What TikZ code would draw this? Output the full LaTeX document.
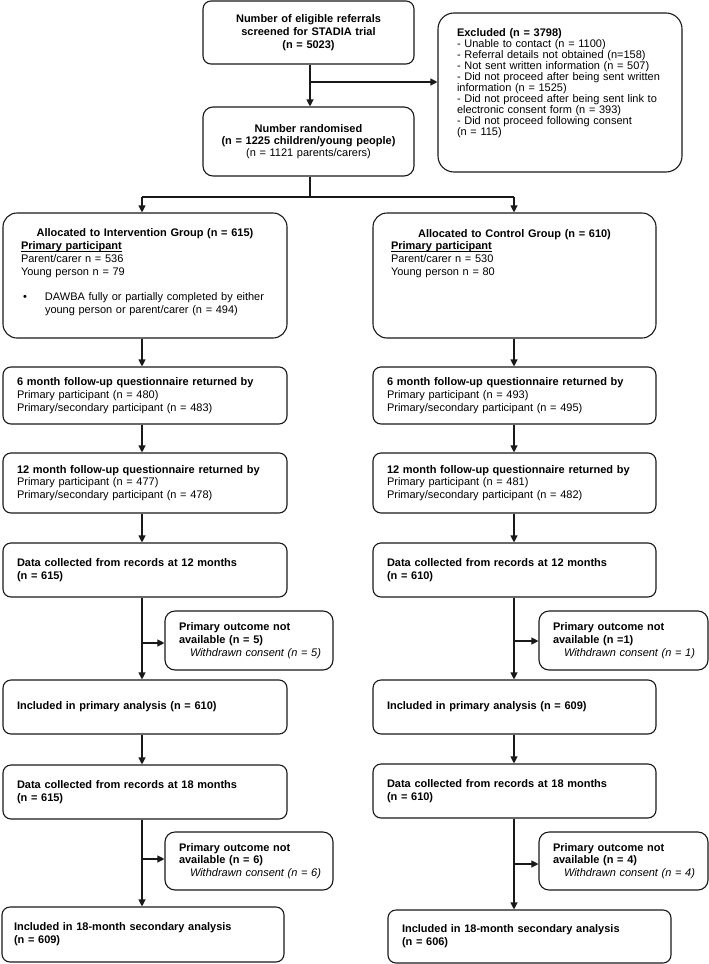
\documentclass[tikz,border=0pt]{standalone}
\usepackage{fontspec}
\setmainfont{Liberation Sans}
\usetikzlibrary{arrows.meta}
\newcommand{\fs}{\fontsize{11}{12.8}\selectfont}
\newcommand{\botpad}[1]{\par\vspace{#1}\hrule height 0pt depth 0pt width 0pt}
\newcommand{\ulbf}[1]{\underline{\smash{\textbf{#1}}}}
\newcommand{\wdr}[1]{\mbox{\hspace*{11pt}\textit{Withdrawn consent (n = #1)}}}
\tikzset{
  box/.style={draw=black!90, line width=1.1pt, rounded corners=8pt, align=left, inner ysep=1pt, font=\fs},
  cbox/.style={box, align=center},
  conn/.style={draw=black!90, line width=1.1pt},
  arr/.style={conn, -{Triangle[length=7pt,width=7pt]}},
}
\begin{document}
\begin{tikzpicture}[x=1pt,y=-1pt]
\useasboundingbox (0,0) rectangle (709,964);
% top section
\node[cbox, minimum width=211, minimum height=63, text width=191, inner xsep=10pt] (top) at (308.5,32.5)
  {\textbf{Number of eligible referrals}\\\textbf{screened for STADIA trial}\\\textbf{(n = 5023)}};
\node[box, rounded corners=16pt, minimum width=244, minimum height=159, text width=206, inner xsep=19pt, font=\fontsize{11}{11}\selectfont] (excl) at (560,92.5)
  {\textbf{Excluded (n = 3798)}\\- Unable to contact (n = 1100)\\- Referral details not obtained (n=158)\\- Not sent written information (n = 507)\\\mbox{- Did not proceed after being sent written}\\information (n = 1525)\\\mbox{- Did not proceed after being sent link to}\\electronic consent form (n = 393)\\- Did not proceed following consent\\(n = 115)\botpad{19pt}};
\node[cbox, rounded corners=10pt, minimum width=211, minimum height=69, text width=195, inner xsep=8pt, font=\fontsize{11}{12}\selectfont] (rand) at (308.5,141.5)
  {\textbf{Number randomised}\\\textbf{(n = 1225 children/young people)}\\(n = 1121 parents/carers)};
% allocation
\node[box, rounded corners=14pt, minimum width=284, minimum height=125, text width=248, inner xsep=18pt] (allocL) at (145,275.5)
  {\makebox[\linewidth][c]{\textbf{Allocated to Intervention Group (n = 615)}}\\\ulbf{Primary participant}\\Parent/carer n = 536\\Young person n = 79\\[12.8pt]\hspace*{2pt}\makebox[22pt][l]{\textbullet}\parbox[t]{222pt}{\fs DAWBA fully or partially completed by either\\young person or parent/carer (n = 494)}\botpad{6pt}};
\node[box, rounded corners=14pt, minimum width=283, minimum height=125, text width=247, inner xsep=18pt] (allocR) at (514.5,275.5)
  {\makebox[\linewidth][c]{\textbf{Allocated to Control Group (n = 610)}}\\\ulbf{Primary participant}\\Parent/carer n = 530\\Young person n = 80\botpad{44pt}};
% left column
\node[box, minimum width=284, minimum height=57, text width=256, inner xsep=14pt] (m6L) at (145,395.5)
  {\textbf{6 month follow-up questionnaire returned by}\\Primary participant (n = 480)\\Primary/secondary participant (n = 483)};
\node[box, minimum width=284, minimum height=60, text width=256, inner xsep=14pt] (m12L) at (145,483)
  {\textbf{12 month follow-up questionnaire returned by}\\Primary participant (n = 477)\\Primary/secondary participant (n = 478)};
\node[box, minimum width=284, minimum height=54, text width=256, inner xsep=14pt] (d12L) at (145,570)
  {\textbf{Data collected from records at 12 months}\\\textbf{(n = 615)}};
\node[box, rounded corners=10pt, minimum width=168, minimum height=59, text width=140, inner xsep=14pt] (po1L) at (249,640.5)
  {\textbf{Primary outcome not}\\\textbf{available (n = 5)}\\\wdr{5}};
\node[box, minimum width=284, minimum height=54, text width=256, inner xsep=14pt] (incL) at (145,707)
  {\textbf{Included in primary analysis (n = 610)}};
\node[box, minimum width=284, minimum height=54, text width=256, inner xsep=14pt] (d18L) at (145,792)
  {\textbf{Data collected from records at 18 months}\\\textbf{(n = 615)}};
\node[box, rounded corners=10pt, minimum width=168, minimum height=58, text width=140, inner xsep=14pt] (po2L) at (249,861)
  {\textbf{Primary outcome not}\\\textbf{available (n = 6)}\\\wdr{6}};
\node[box, minimum width=282, minimum height=55, text width=258, inner xsep=12pt] (inc18L) at (143,934.5)
  {\textbf{Included in 18-month secondary analysis}\\\textbf{(n = 609)}};
% right column
\node[box, minimum width=283, minimum height=57, text width=255, inner xsep=14pt] (m6R) at (514.5,395.5)
  {\textbf{6 month follow-up questionnaire returned by}\\Primary participant (n = 493)\\Primary/secondary participant (n = 495)};
\node[box, minimum width=283, minimum height=60, text width=255, inner xsep=14pt] (m12R) at (514.5,483)
  {\textbf{12 month follow-up questionnaire returned by}\\Primary participant (n = 481)\\Primary/secondary participant (n = 482)};
\node[box, minimum width=283, minimum height=54, text width=255, inner xsep=14pt] (d12R) at (514.5,570)
  {\textbf{Data collected from records at 12 months}\\\textbf{(n = 610)}};
\node[box, rounded corners=10pt, minimum width=169, minimum height=59, text width=141, inner xsep=14pt] (po1R) at (623.5,640.5)
  {\textbf{Primary outcome not}\\\textbf{available (n =1)}\\\wdr{1}};
\node[box, minimum width=283, minimum height=54, text width=255, inner xsep=14pt] (incR) at (514.5,707)
  {\textbf{Included in primary analysis (n = 609)}};
\node[box, minimum width=283, minimum height=54, text width=255, inner xsep=14pt] (d18R) at (514.5,791)
  {\textbf{Data collected from records at 18 months}\\\textbf{(n = 610)}};
\node[box, rounded corners=10pt, minimum width=169, minimum height=58, text width=141, inner xsep=14pt] (po2R) at (623.5,861)
  {\textbf{Primary outcome not}\\\textbf{available (n = 4)}\\\wdr{4}};
\node[box, minimum width=283, minimum height=53, text width=255, inner xsep=14pt] (inc18R) at (529.5,936.5)
  {\textbf{Included in 18-month secondary analysis}\\\textbf{(n = 606)}};
% connector helpers
\coordinate (xT) at (310,0);
\coordinate (xL) at (142,0);
\coordinate (xR) at (514,0);
\coordinate (br0) at (310,82);
\coordinate (split) at (310,197);
\coordinate (bL1) at (142,643);
\coordinate (bL2) at (142,859);
\coordinate (bR1) at (514,641);
\coordinate (bR2) at (514,864);
% connectors top
\draw[arr] (top.south -| xT) -- (rand.north -| xT);
\draw[arr] (br0) -- (br0 -| excl.west);
\draw[conn] (rand.south -| xT) -- (split);
\draw[conn] (split -| xL) -- (split -| xR);
\draw[arr] (split -| xL) -- (allocL.north -| xL);
\draw[arr] (split -| xR) -- (allocR.north -| xR);
% left chain
\draw[arr] (allocL.south -| xL) -- (m6L.north -| xL);
\draw[arr] (m6L.south -| xL) -- (m12L.north -| xL);
\draw[arr] (m12L.south -| xL) -- (d12L.north -| xL);
\draw[arr] (d12L.south -| xL) -- (incL.north -| xL);
\draw[arr] (bL1) -- (bL1 -| po1L.west);
\draw[arr] (incL.south -| xL) -- (d18L.north -| xL);
\draw[arr] (d18L.south -| xL) -- (inc18L.north -| xL);
\draw[arr] (bL2) -- (bL2 -| po2L.west);
% right chain
\draw[arr] (allocR.south -| xR) -- (m6R.north -| xR);
\draw[arr] (m6R.south -| xR) -- (m12R.north -| xR);
\draw[arr] (m12R.south -| xR) -- (d12R.north -| xR);
\draw[arr] (d12R.south -| xR) -- (incR.north -| xR);
\draw[arr] (bR1) -- (bR1 -| po1R.west);
\draw[arr] (incR.south -| xR) -- (d18R.north -| xR);
\draw[arr] (d18R.south -| xR) -- (inc18R.north -| xR);
\draw[arr] (bR2) -- (bR2 -| po2R.west);
\end{tikzpicture}
\end{document}
